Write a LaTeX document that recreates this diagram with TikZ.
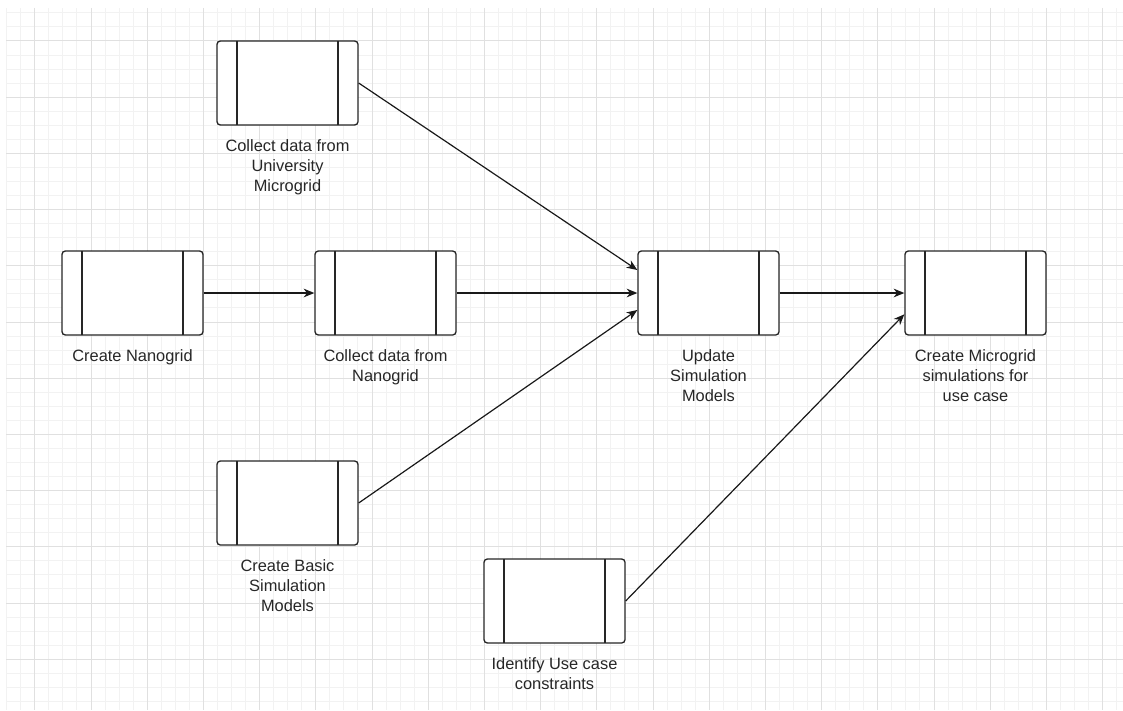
\documentclass[tikz,border=0pt]{standalone}
\usepackage{fontspec}
\setmainfont{Liberation Sans}
\usetikzlibrary{arrows.meta}

\tikzset{
  proc/.style={draw=black!85, line width=1pt, rounded corners=2.5pt, fill=white,
    minimum width=105.75pt, minimum height=63pt, inner sep=0pt,
    path picture={
      \draw[line width=1pt, black!85]
        ([xshift=15pt]path picture bounding box.north west) --
        ([xshift=15pt]path picture bounding box.south west);
      \draw[line width=1pt, black!85]
        ([xshift=-15pt]path picture bounding box.north east) --
        ([xshift=-15pt]path picture bounding box.south east);
    }},
  lbl/.style={anchor=north, align=center, inner sep=0pt, text=black!85,
    font=\fontsize{12.3}{14.8}\selectfont},
  flow/.style={-{Stealth[length=8pt,width=6.5pt,inset=2.5pt]}, line width=0.9pt, black!90},
  minor/.style={draw=black!5, line width=0.75pt},
  major/.style={draw=black!12, line width=0.75pt}
}

\begin{document}
\begin{tikzpicture}[x=0.75pt, y=-0.75pt]
  \useasboundingbox (0,0) rectangle (1123,710);

  \foreach \i in {0,1,...,79}
    \draw[minor] ({6.7+14.05*\i},8) -- ({6.7+14.05*\i},710);
  \foreach \j in {0,1,...,49}
    \draw[minor] (6,{12.9+14.05*\j}) -- (1123,{12.9+14.05*\j});
  \foreach \i in {0,1,...,19}
    \draw[major] ({34.8+56.2*\i},8) -- ({34.8+56.2*\i},710);
  \foreach \j in {0,1,...,11}
    \draw[major] (6,{41+56.2*\j}) -- (1123,{41+56.2*\j});

  \node[proc] (univ) at (287.5,83) {};
  \node[proc] (nano) at (132.5,293) {};
  \node[proc] (collnano) at (385.5,293) {};
  \node[proc] (basic) at (287.5,503) {};
  \node[proc] (update) at (708.5,293) {};
  \node[proc] (micro) at (975.5,293) {};
  \node[proc] (usecase) at (554.5,601) {};

  \node[lbl] (univ-l) at ([yshift=-10.5pt]univ.south) {Collect data from\\University\\Microgrid};
  \node[lbl] (nano-l) at ([yshift=-10.5pt]nano.south) {Create Nanogrid};
  \node[lbl] (collnano-l) at ([yshift=-10.5pt]collnano.south) {Collect data from\\Nanogrid};
  \node[lbl] (basic-l) at ([yshift=-10.5pt]basic.south) {Create Basic\\Simulation\\Models};
  \node[lbl] (update-l) at ([yshift=-10.5pt]update.south) {Update\\Simulation\\Models};
  \node[lbl] (micro-l) at ([yshift=-10.5pt]micro.south) {Create Microgrid\\simulations for\\use case};
  \node[lbl] (usecase-l) at ([yshift=-10.5pt]usecase.south) {Identify Use case\\constraints};

  \draw[flow] (univ.east) -- ([yshift=17.25pt]update.west);
  \draw[flow] (nano.east) -- (collnano.west);
  \draw[flow] (collnano.east) -- (update.west);
  \draw[flow] (basic.east) -- ([yshift=-12.75pt]update.west);
  \draw[flow] (update.east) -- (micro.west);
  \draw[flow] (usecase.east) -- ([yshift=-16pt]micro.west);
\end{tikzpicture}
\end{document}
